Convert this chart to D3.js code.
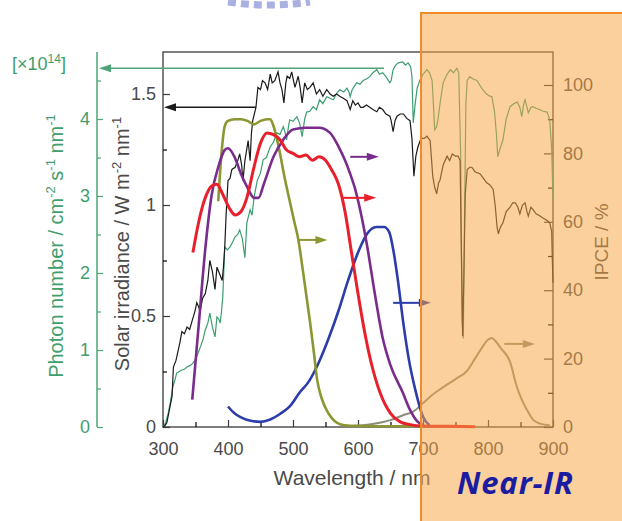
<!DOCTYPE html>
<html>
<head>
<meta charset="utf-8">
<title>IPCE and solar spectrum</title>
<script src="https://cdn.jsdelivr.net/npm/d3@7/dist/d3.min.js"></script>
<style>
html, body { margin: 0; padding: 0; background: #ffffff; }
svg { display: block; font-family: "Liberation Sans", Arial, sans-serif; }
</style>
</head>
<body>
<div id="chart"></div>
<script>
// AM1.5 solar irradiance (W m-2 nm-1)
const solarWl = [300,303,306,310,314,316,320,326,329,333,337,341,345,349,352,355,357,361,365,369,372,376,380,383,387,391,393,395,397,400,403,406,411,415,418,421,423,426,431,434,436,438,443,446,450,453,457,461,465,468,472,477,480,483,486,489,491,495,498,503,508,511,514,518,522,526,531,536,541,546,552,557,562,567,572,578,583,588,592,596,600,604,608,613,618,623,629,633,638,643,649,651,654,657,660,665,670,675,680,683,686,689,692,697,702,706,711,715,718,721,724,726,731,737,741,745,750,754,757,759,761,763,765,768,772,775,780,788,793,798,803,808,811,814,816,819,823,828,834,838,842,846,849,853,857,860,862,866,869,874,880,885,891,895,898,899,900];
const solarIrr = [0,0.005,0.02,0.08,0.14,0.27,0.3,0.38,0.43,0.42,0.45,0.44,0.48,0.52,0.56,0.54,0.52,0.58,0.6,0.66,0.75,0.7,0.62,0.72,0.69,0.66,0.72,0.81,0.95,1.11,1.12,1.16,1.17,1.2,1.23,1.18,1.11,1.2,1.29,1.2,1.32,1.38,1.44,1.53,1.52,1.56,1.55,1.52,1.59,1.55,1.56,1.6,1.55,1.52,1.46,1.55,1.58,1.57,1.6,1.53,1.58,1.53,1.46,1.55,1.52,1.53,1.55,1.5,1.52,1.49,1.52,1.5,1.49,1.5,1.49,1.48,1.47,1.43,1.47,1.45,1.46,1.44,1.44,1.45,1.44,1.43,1.42,1.44,1.43,1.41,1.4,1.38,1.33,1.38,1.4,1.41,1.41,1.39,1.38,1.3,1.13,1.22,1.26,1.3,1.3,1.31,1.29,1.13,1.08,1.05,1.1,1.11,1.18,1.22,1.2,1.23,1.22,1.22,1.2,0.8,0.41,0.7,1.05,1.16,1.17,1.17,1.15,1.14,1.12,1.1,1.09,1.07,1.0,0.9,0.87,0.9,0.92,0.97,0.99,1.01,1.01,0.99,0.96,1.0,1.01,0.97,0.95,0.99,0.98,0.96,0.95,0.94,0.93,0.92,0.88,0.75,0.65];

// photon flux (x10^14 cm-2 s-1 nm-1)
const photonWl = [300,304,308,312,315,318,321,325,329,333,337,342,346,350,354,358,362,365,369,372,376,380,383,386,388,390,392,395,399,403,407,411,415,418,422,426,429,434,437,440,445,450,454,459,465,470,475,480,485,488,490,493,495,500,506,510,514,518,521,526,531,536,541,546,552,557,562,567,572,578,583,586,588,591,594,598,603,608,613,618,623,629,633,638,643,649,651,654,658,662,669,673,677,681,683,685,688,691,695,700,706,710,714,716,718,721,723,727,731,737,742,747,752,755,758,760,762,764,766,768,772,777,783,788,792,797,802,806,810,813,815,818,823,828,834,840,845,849,852,855,857,860,862,866,869,874,880,885,891,895,898,900];
const photonNum = [0,0.05,0.18,0.35,0.52,0.6,0.7,0.72,0.74,0.75,0.78,0.8,0.83,0.88,0.96,1.05,1.15,1.26,1.35,1.48,1.3,1.17,1.43,1.4,1.35,1.5,1.69,2.34,2.3,2.34,2.4,2.47,2.5,2.56,2.45,2.2,2.65,2.82,2.75,2.98,3.2,3.3,3.47,3.5,3.64,3.7,3.82,3.8,3.9,3.82,3.73,3.9,3.99,3.97,4.03,3.95,3.77,4.0,4.09,4.1,4.16,4.12,4.25,4.2,4.29,4.27,4.25,4.33,4.38,4.35,4.4,4.35,4.29,4.38,4.42,4.47,4.45,4.5,4.52,4.55,4.6,4.64,4.58,4.6,4.55,4.47,4.5,4.64,4.7,4.73,4.74,4.7,4.73,4.68,4.55,3.95,4.2,4.4,4.5,4.58,4.64,4.6,4.5,4.2,3.86,3.9,3.99,4.25,4.47,4.58,4.64,4.6,4.66,4.6,3.5,1.4,1.15,2.8,4.2,4.5,4.55,4.52,4.5,4.43,4.38,4.33,4.3,4.29,4.1,3.8,3.51,3.6,3.73,4.0,4.16,4.2,4.22,4.15,4.03,4.2,4.25,4.15,4.08,4.15,4.16,4.14,4.12,4.1,4.09,3.99,3.6,2.95];

// IPCE curves (%)
const oliveWl = [385,390,395,400,410,420,430,440,450,460,465,470,480,487,495,502,508,515,526,532,537,543,549,560,577,600,650,700];
const oliveIpce = [66,80,88,89.5,90,90,89.5,88.5,89.5,90,90,88,80,73,66,60,55,46,31,22,14,9,6,2.5,0.6,0.3,0.2,0.2];

const purpleWl = [345,355,365,375,385,395,400,410,420,430,440,447,455,470,485,500,520,540,557,570,580,588,595,605,614,625,638,650,669,680,692,700];
const purpleIpce = [8,30,52,68,76,81,81.5,79,74,70,67,67,71,79,84,87,87.5,87.5,86,82,78,74,70,62,53,40,26,18,10,5,1.5,0.5];

const redWl = [346,355,365,375,383,392,402,411,420,429,440,450,460,470,480,490,500,510,520,530,540,550,560,570,580,590,600,610,620,634,650,665,680,700,740,780];
const redIpce = [51,60,67,70.5,71,68,64,62,63,67,76,83,86,85.5,84,81,80,79,79.5,78,79,78,75,71,63,51,39,28,19,10,4,1.5,0.7,0.3,0.2,0.1];

const blueWl = [400,410,420,435,450,465,480,495,510,525,540,555,570,585,600,614,628,640,648,655,662,670,678,688,700,710];
const blueIpce = [6,4,2.8,1.8,1.5,2.2,3.8,6,10,13.5,19,26,34,43,51,56.5,58.5,58.5,57,51,42,30,20,11,3,0.5];

const tanWl = [590,620,650,670,685,700,715,730,750,768,780,790,800,806,812,820,834,844,852,860,870,880,895];
const tanIpce = [0.3,0.8,2,3.5,4.5,7,9.5,11.5,14,16.5,20,23,25.5,26,25,23,19,12,8,5,2,1,0.5];

// tick labels
const xTicks = [300,400,500,600,700,800,900];
const irrTicks = [0,0.5,1,1.5];
const photonTicks = [0,1,2,3,4];
const ipceTicks = [0,20,40,60,80,100];

// arrows: wl start, wl end, value on the IPCE axis
const ipceArrows = [
  { color: "#8c9632", from: 508, to: 553, v: 54.7 },
  { color: "#7a2c8c", from: 588, to: 632, v: 79 },
  { color: "#e8202c", from: 577, to: 628, v: 67 },
  { color: "#2c3ca8", from: 654, to: 712, v: 36.3 },
  { color: "#8c8c78", from: 825, to: 872, v: 24.3 }
];

const W = 622, H = 521;
const svg = d3.select("#chart").append("svg").attr("width", W).attr("height", H);

const x = d3.scaleLinear().domain([300, 900]).range([163, 553]);
const yIrr = d3.scaleLinear().domain([0, 1.5]).range([427, 94]);
const yPh = d3.scaleLinear().domain([0, 4]).range([427, 119]);
const yIpce = d3.scaleLinear().domain([0, 100]).range([427, 85]);
const frameTop = 52, frameBottom = 427, greenX = 97;

// faint watermark at top edge
svg.append("path")
  .attr("d", "M228,2 Q268,8 310,2")
  .attr("fill", "none").attr("stroke", "#a9b0e2").attr("stroke-width", 7)
  .attr("stroke-dasharray", "8,5");

// frame
svg.append("rect").attr("x", 163).attr("y", frameTop).attr("width", 553 - 163).attr("height", frameBottom - frameTop)
  .attr("fill", "none").attr("stroke", "#3a3a3a").attr("stroke-width", 1.3);

// x axis
const xMajor = svg.append("g").attr("transform", `translate(0,${frameBottom})`)
  .call(d3.axisBottom(x).tickValues(xTicks).tickSize(-7).tickPadding(15).tickSizeOuter(0));
svg.append("g").attr("transform", `translate(0,${frameBottom})`)
  .call(d3.axisBottom(x).tickValues(d3.range(350, 900, 100)).tickSize(-5).tickFormat("").tickSizeOuter(0))
  .select(".domain").remove();

// left irradiance axis
const irrAxis = svg.append("g").attr("transform", "translate(163,0)")
  .call(d3.axisLeft(yIrr).tickValues(irrTicks).tickSize(-7).tickPadding(7).tickFormat(d3.format("")).tickSizeOuter(0));
svg.append("g").attr("transform", "translate(163,0)")
  .call(d3.axisLeft(yIrr).tickValues([0.25, 0.75, 1.25]).tickSize(-4).tickFormat("").tickSizeOuter(0))
  .select(".domain").remove();

// green photon axis
const phAxis = svg.append("g").attr("transform", `translate(${greenX},0)`)
  .call(d3.axisLeft(yPh).tickValues(photonTicks).tickSize(-6).tickPadding(7).tickFormat(d3.format("d")).tickSizeOuter(0));
const phMinor = svg.append("g").attr("transform", `translate(${greenX},0)`)
  .call(d3.axisLeft(yPh).tickValues([0.5, 1.5, 2.5, 3.5, 4.5]).tickSize(-4).tickFormat("").tickSizeOuter(0));
phMinor.select(".domain").remove();
phMinor.selectAll("line").attr("stroke", "#4ea476");
svg.append("line").attr("x1", greenX).attr("x2", greenX).attr("y1", frameTop).attr("y2", frameBottom)
  .attr("stroke", "#4ea476").attr("stroke-width", 1.5);
phAxis.select(".domain").remove();
phAxis.selectAll("line").attr("stroke", "#4ea476");
phAxis.selectAll("text").attr("fill", "#3f9e6c");

// right IPCE axis
const ipceAxis = svg.append("g").attr("transform", "translate(553,0)")
  .call(d3.axisRight(yIpce).tickValues(ipceTicks).tickSize(-9).tickPadding(10).tickSizeOuter(0));
svg.append("g").attr("transform", "translate(553,0)")
  .call(d3.axisRight(yIpce).tickValues([10, 30, 50, 70, 90]).tickSize(-5).tickFormat("").tickSizeOuter(0))
  .select(".domain").remove();

[xMajor, irrAxis, ipceAxis].forEach(function(g) {
  g.select(".domain").remove();
  g.selectAll("line").attr("stroke", "#3a3a3a");
  g.selectAll("text").attr("fill", "#4a4a4a");
});
svg.selectAll(".tick text").attr("font-size", 18).attr("font-family", "Liberation Sans, Arial, sans-serif");
svg.selectAll(".tick line").attr("stroke-width", 1.2);

// spectra
const lineOf = function(ys) {
  return d3.line().x(function(d) { return x(d[0]); }).y(function(d) { return ys(d[1]); });
};
svg.append("path").datum(d3.zip(photonWl, photonNum))
  .attr("d", lineOf(yPh)).attr("fill", "none").attr("stroke", "#3c9e70").attr("stroke-width", 1.2);
svg.append("path").datum(d3.zip(solarWl, solarIrr))
  .attr("d", lineOf(yIrr)).attr("fill", "none").attr("stroke", "#1a1a1a").attr("stroke-width", 1.2);

// IPCE curves
const smooth = function(ys) {
  return d3.line().curve(d3.curveMonotoneX).x(function(d) { return x(d[0]); }).y(function(d) { return ys(d[1]); });
};
const ipceSeries = [
  { wl: tanWl, v: tanIpce, color: "#8c8c78", w: 2 },
  { wl: blueWl, v: blueIpce, color: "#2c3ca8", w: 2.6 },
  { wl: oliveWl, v: oliveIpce, color: "#8c9632", w: 2.6 },
  { wl: purpleWl, v: purpleIpce, color: "#7a2c8c", w: 2.6 },
  { wl: redWl, v: redIpce, color: "#e8202c", w: 3 }
];
ipceSeries.forEach(function(s) {
  svg.append("path").datum(d3.zip(s.wl, s.v))
    .attr("d", smooth(yIpce)).attr("fill", "none").attr("stroke", s.color)
    .attr("stroke-width", s.w).attr("stroke-linejoin", "round");
});

// arrows
function arrow(x1, x2, y, color, w) {
  const dir = x2 > x1 ? 1 : -1;
  svg.append("line").attr("x1", x1).attr("x2", x2 - dir * 9).attr("y1", y).attr("y2", y)
    .attr("stroke", color).attr("stroke-width", w);
  svg.append("path")
    .attr("d", `M${x2},${y} L${x2 - dir * 12},${y - 4} L${x2 - dir * 12},${y + 4} Z`)
    .attr("fill", color);
}
arrow(x(640), greenX + 2, yPh(4.66), "#4ea476", 1.6);
arrow(x(443), 164, yIrr(1.44), "#1a1a1a", 1.6);
ipceArrows.forEach(function(a) { arrow(x(a.from), x(a.to), yIpce(a.v), a.color, 2); });

// axis titles
svg.append("text").attr("x", 352).attr("y", 485).attr("text-anchor", "middle")
  .attr("font-size", 21).attr("fill", "#4a4a4a").text("Wavelength / nm");

const solarTitle = svg.append("text").attr("transform", "translate(129,244) rotate(-90)")
  .attr("text-anchor", "middle").attr("font-size", 20).attr("fill", "#4a4a4a");
solarTitle.append("tspan").text("Solar irradiance / W m");
solarTitle.append("tspan").attr("dy", -8).attr("font-size", 13).text("-2");
solarTitle.append("tspan").attr("dy", 8).text(" nm");
solarTitle.append("tspan").attr("dy", -8).attr("font-size", 13).text("-1");

const photonTitle = svg.append("text").attr("transform", "translate(63,246) rotate(-90)")
  .attr("text-anchor", "middle").attr("font-size", 20).attr("fill", "#3f9e6c");
photonTitle.append("tspan").text("Photon number / cm");
photonTitle.append("tspan").attr("dy", -8).attr("font-size", 13).text("-2");
photonTitle.append("tspan").attr("dy", 8).text(" s");
photonTitle.append("tspan").attr("dy", -8).attr("font-size", 13).text("-1");
photonTitle.append("tspan").attr("dy", 8).text(" nm");
photonTitle.append("tspan").attr("dy", -8).attr("font-size", 13).text("-1");

const scaleNote = svg.append("text").attr("x", 12).attr("y", 70).attr("font-size", 18).attr("fill", "#3f9e6c");
scaleNote.append("tspan").text("[×10");
scaleNote.append("tspan").attr("dy", -7).attr("font-size", 12).text("14");
scaleNote.append("tspan").attr("dy", 7).text("]");

svg.append("text").attr("transform", "translate(608,242) rotate(-90)")
  .attr("text-anchor", "middle").attr("font-size", 19).attr("fill", "#4a4a4a").text("IPCE / %");

// near-IR overlay
svg.append("rect").attr("x", x(700) - 2).attr("y", 13).attr("width", 240).attr("height", 540)
  .attr("fill", "#f7a444").attr("fill-opacity", 0.52)
  .attr("stroke", "#f08a2a").attr("stroke-width", 2);

svg.append("text").attr("x", 457).attr("y", 494)
  .attr("font-family", "Open Sans, Liberation Sans, sans-serif")
  .attr("font-size", 31).attr("font-weight", "bold").attr("font-style", "italic")
  .attr("fill", "#1c1ca0").attr("textLength", 116).text("Near-IR");
</script>
</body>
</html>
